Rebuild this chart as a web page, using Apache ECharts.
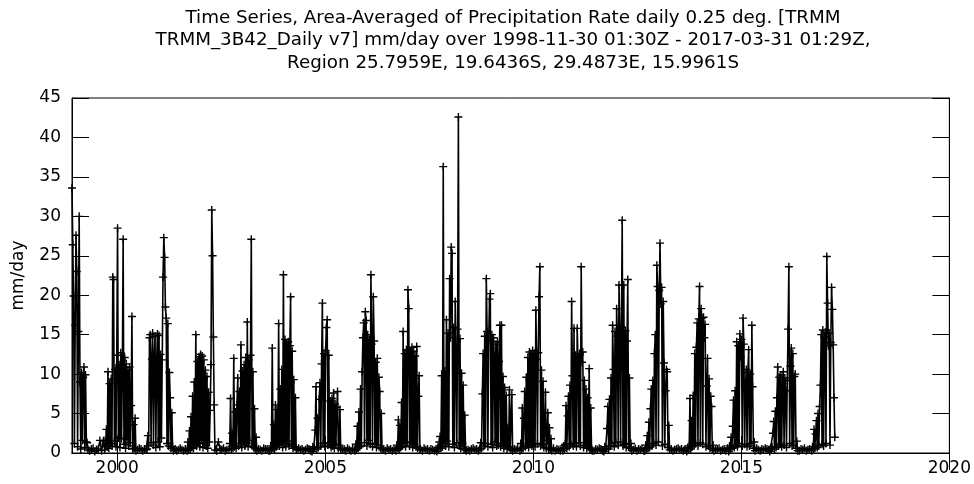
<!DOCTYPE html>
<html><head><meta charset="utf-8">
<script src="https://cdn.jsdelivr.net/npm/echarts@6/dist/echarts.min.js"></script>
<style>html,body{margin:0;padding:0;background:#fff}#chart{width:974px;height:484px}</style>
</head><body><div id="chart"></div>
<script>
const titleLines = [
  'Time Series, Area-Averaged of Precipitation Rate daily 0.25 deg. [TRMM',
  'TRMM_3B42_Daily v7] mm/day over 1998-11-30 01:30Z - 2017-03-31 01:29Z,',
  'Region 25.7959E, 19.6436S, 29.4873E, 15.9961S'
];
const yAxisName = 'mm/day';
const xTickYears = [2000, 2005, 2010, 2015, 2020];
const recordStart = '1998-11-30';
const axisEnd = '2020-01-01';
const wetStep = 7;   // days between wet-season samples
const dryStep = 15;  // days between dry-season samples

// first day of each rainy-season record
const wetStart = ['1998-11-30','1999-09-07','2000-09-19','2001-09-05','2002-09-08','2003-09-02',
  '2004-09-06','2005-09-18','2006-09-13','2007-09-07','2008-09-19','2009-09-05','2010-09-17',
  '2011-09-12','2012-09-06','2013-09-09','2014-09-12','2015-09-07','2016-09-09'];

// rainy-season values (mm/day)
const w1999 = [33.6,26.4,19.9,1.2,16.2,27.6,23.0,0.8,15.4,30.0,9.0,0.5,10.2,1.6,9.6,10.9,0.7,9.9,1.4,1.3,0.5];
const w2000 = [1.6,0.4,1.2,3.0,0.8,10.3,0.6,8.8,1.2,9.4,0.9,22.3,22.0,1.5,10.6,0.8,12.4,28.5,1.9,11.2,0.7,12.7,1.8,10.8,27.1,1.1,12.1,0.6,11.3,1.7,10.5,0.9,10.9,1.3,6.0,17.3,0.5,3.6,0.6,4.4,0.3];
const w2001 = [0.5,2.2,0.9,14.6,15.0,1.3,11.9,15.2,1.0,12.3,14.8,0.7,11.6,15.1,1.4,14.9,0.8,12.5,1.9,11.8,22.3,27.3,24.8,18.5,17.1,1.2,16.4,0.9,10.2,7.0,0.6,5.1,0.8,0.3];
const w2002 = [0.3,1.4,0.5,2.8,0.4,4.6,0.7,7.2,0.6,9.0,1.1,15.0,0.9,11.6,1.3,12.2,0.8,12.5,1.6,12.3,0.7,11.8,1.2,10.5,0.9,9.7,0.6,7.7,1.4,5.4,11.2,30.8,25.0,14.7,6.1,0.4];
const w2003 = [0.4,1.2,6.9,0.5,2.5,0.6,12.0,0.8,5.2,0.6,6.1,9.5,0.9,7.8,1.2,13.7,0.7,10.4,1.5,11.2,0.9,12.1,1.3,16.6,0.8,11.8,1.6,12.4,27.1,1.0,10.3,0.7,5.6,0.5,2.0,0.3];
const w2004 = [0.3,0.9,0.4,13.3,0.6,3.6,0.5,6.1,0.8,5.5,1.1,16.4,0.9,8.1,1.4,10.6,0.7,22.6,1.2,14.4,0.8,13.9,1.5,14.1,0.9,13.6,19.8,1.1,12.9,0.6,9.3,0.8,7.0,0.5,0.4];
const w2005 = [0.2,0.8,0.4,0.6,2.9,8.4,0.5,4.4,0.7,6.8,8.9,0.9,11.3,19.0,1.2,12.6,0.8,13.0,15.9,16.9,1.0,12.4,1.3,6.6,0.7,6.9,0.9,7.6,0.6,6.2,1.1,5.8,7.8,0.6,1.0,5.5,0.4];
const w2006 = [0.3,1.1,0.5,3.4,0.6,5.2,0.8,8.1,1.0,10.3,14.6,16.5,1.3,17.9,16.8,0.9,15.0,1.6,14.4,1.1,22.6,13.8,0.8,19.8,14.2,1.2,11.5,0.7,12.0,1.0,9.6,7.8,0.6,5.0,0.4];
const w2007 = [0.3,1.0,0.6,4.2,0.5,3.5,0.7,6.4,0.9,15.4,1.2,12.6,0.8,13.1,1.4,20.7,18.3,0.9,12.8,1.3,13.4,0.7,12.9,1.1,12.3,0.8,13.5,0.6,7.2,9.8,0.5,0.4];
const w2008 = [0.2,0.7,0.4,1.4,2.1,0.6,9.8,0.8,36.3,1.2,10.4,0.9,16.9,1.5,15.2,0.8,22.1,14.6,26.1,25.3,1.1,15.9,0.7,19.2,12.5,1.3,15.7,42.6,0.9,14.5,0.6,10.1,1.2,8.6,0.5,4.8,0.4,0.3];
const w2009 = [0.4,1.3,0.6,7.5,12.6,0.9,14.8,1.2,22.1,15.4,0.8,14.3,19.5,20.2,1.1,15.0,0.7,14.6,12.2,1.4,13.8,0.9,14.1,1.0,11.6,16.2,0.8,16.2,1.2,9.7,0.6,8.3,1.0,7.3,0.5,3.2,0.8,8.0,0.6,0.4,7.4,0.3];
const w2010 = [0.3,1.2,0.5,5.7,0.6,4.4,7.8,0.8,9.6,1.0,12.1,0.7,12.8,1.3,12.5,0.9,13.0,1.1,12.6,0.8,18.1,11.9,1.2,12.7,19.8,23.6,0.9,10.5,1.1,9.1,0.7,2.8,7.7,0.6,1.6,5.1,0.5,3.2,0.4,1.8,0.3];
const w2011 = [0.3,0.9,0.5,1.1,6.0,0.6,4.7,7.2,0.8,8.6,1.1,19.2,9.8,0.9,15.8,1.2,12.4,0.8,15.8,11.8,1.3,12.6,0.9,23.6,11.5,12.8,0.7,9.2,1.0,8.1,0.6,7.0,0.9,10.7,0.5,5.7,0.4,0.3];
const w2012 = [0.2,0.8,0.4,0.6,3.1,5.9,0.5,6.8,0.9,9.5,1.2,16.2,10.6,0.8,15.4,1.3,18.3,14.8,1.0,21.3,15.6,1.4,16.0,29.5,0.9,21.3,1.1,15.5,0.7,14.2,22.0,0.8,9.5,0.6,1.2,0.3];
const w2013 = [0.3,1.0,0.5,2.2,0.6,3.9,0.7,5.6,8.1,0.9,9.2,1.2,12.6,15.0,1.0,23.8,21.1,1.4,20.6,26.6,18.9,21.0,0.9,19.2,11.4,1.1,7.9,10.6,10.3,0.7,3.5,0.4];
const w2014 = [0.2,0.7,0.4,0.9,6.9,0.5,4.1,0.8,7.3,1.0,12.6,1.2,13.4,16.5,0.9,17.0,21.1,1.3,18.3,17.1,1.1,17.2,14.6,16.3,0.8,8.5,12.0,0.9,9.4,0.6,7.2,5.9,0.5,1.0,0.3];
const w2015 = [0.2,0.9,0.5,2.0,0.6,3.4,6.7,0.7,7.9,1.0,14.1,0.8,13.6,1.2,15.1,12.2,14.4,0.9,17.1,13.8,1.1,8.3,10.6,0.8,10.2,13.1,0.9,10.0,1.2,16.2,8.4,0.6,1.4,0.3];
const w2016 = [0.2,0.6,0.4,0.8,2.5,4.0,0.5,5.3,0.7,7.0,10.9,0.9,9.6,1.1,9.9,0.8,8.8,10.3,1.0,9.5,7.9,0.7,9.2,15.7,23.6,1.2,11.0,13.3,0.9,12.6,1.0,9.7,10.0,0.6,1.5,0.3];
const w2017 = [0.3,0.8,0.5,3.0,0.6,2.4,4.1,0.7,5.0,0.9,5.9,8.6,15.0,1.1,15.6,0.9,14.7,15.3,1.2,24.9,19.0,13.6,15.2,1.0,14.0,21.0,18.2,13.7,7.0,2.0];

// dry-season values (mm/day) following each rainy season
const d1999 = [0.3,0.5,0.6,0.2,0.4,0.5,1.6,0.3,1.5];
const d2000 = [0.4,0.6,0.5,0.3,0.5,0.4,0.6,0.3,0.5];
const d2001 = [0.5,0.3,0.4,0.6,0.4,0.3,0.5,0.7,0.4];
const d2002 = [0.3,1.4,0.5,0.4,0.6,0.3,0.4,0.5,0.3];
const d2003 = [0.5,0.4,0.3,0.6,0.5,0.4,0.3,0.5,0.4];
const d2004 = [0.6,0.4,0.5,0.3,0.4,0.6,0.5,0.3,0.4];
const d2005 = [0.4,0.5,0.3,0.6,0.4,0.3,0.5,0.4,0.6];
const d2006 = [0.5,0.3,0.6,0.4,0.5,0.3,0.4,0.6,0.3];
const d2007 = [0.3,0.6,0.4,0.5,0.3,0.5,0.4,0.3,0.5];
const d2008 = [0.4,0.3,0.5,0.6,0.4,0.5,0.3,0.6,0.4];
const d2009 = [0.5,0.4,0.6,0.3,0.5,0.4,0.6,0.5,0.3];
const d2010 = [0.6,0.3,0.5,0.4,0.3,0.6,0.4,0.5,0.4];
const d2011 = [0.3,0.5,0.4,0.6,0.5,0.3,0.5,0.4,0.6];
const d2012 = [0.4,0.6,0.3,0.5,0.4,0.6,0.3,0.5,0.4];
const d2013 = [0.5,0.3,0.4,0.5,0.6,0.4,0.5,0.3,0.5];
const d2014 = [0.4,0.5,0.6,0.3,0.4,0.5,0.3,0.6,0.4];
const d2015 = [0.6,0.4,0.3,0.5,0.4,0.6,0.5,0.4,0.3];
const d2016 = [0.3,0.5,0.4,0.6,0.3,0.4,0.5,0.3,0.6];

const wetValues = [w1999,w2000,w2001,w2002,w2003,w2004,w2005,w2006,w2007,w2008,w2009,w2010,w2011,w2012,w2013,w2014,w2015,w2016,w2017];
const dryValues = [d1999,d2000,d2001,d2002,d2003,d2004,d2005,d2006,d2007,d2008,d2009,d2010,d2011,d2012,d2013,d2014,d2015,d2016];

const DAY = 86400000;
const toT = s => Date.parse(s + 'T00:00:00Z');
const data = [];
for (let k = 0; k < wetValues.length; k++) {
  const s = toT(wetStart[k]);
  const wv = wetValues[k];
  wv.forEach((v, i) => data.push([s + i * wetStep * DAY, v]));
  if (k < dryValues.length) {
    const last = s + (wv.length - 1) * wetStep * DAY;
    const next = toT(wetStart[k + 1]);
    dryValues[k].forEach((v, j) => {
      const x = last + (j + 1) * dryStep * DAY;
      if (x < next - 4 * DAY) data.push([x, v]);
    });
  }
}
const xTicks = xTickYears.map(y => Date.UTC(y, 0, 1));
const FONT = 'DejaVu Sans';
const plus = 'path://M0,3.3L8,3.3L8,4.7L0,4.7Z M3.3,0L4.7,0L4.7,8L3.3,8Z';

const chart = echarts.init(document.getElementById('chart'), null, {renderer: 'canvas'});
const tickStyle = {show: true, inside: true, length: 17, lineStyle: {color: '#000', width: 1}};
chart.setOption({
  animation: false,
  backgroundColor: '#fff',
  title: {
    text: titleLines.join('\n'), left: 508, top: 2, textAlign: 'center',
    textStyle: {fontFamily: FONT, fontSize: 18.3, fontWeight: 'normal', color: '#000', lineHeight: 22.5}
  },
  grid: {left: 72, right: 24, top: 98, bottom: 31, show: true, borderColor: '#000', borderWidth: 1},
  xAxis: [
    {type: 'value', position: 'bottom', min: toT(recordStart), max: toT(axisEnd),
     axisLine: {show: true, lineStyle: {color: '#000'}},
     axisTick: Object.assign({customValues: xTicks}, tickStyle),
     axisLabel: {customValues: xTicks, formatter: v => String(new Date(v).getUTCFullYear()),
                 fontFamily: FONT, fontSize: 17, color: '#000', margin: 7},
     splitLine: {show: false}},
    {type: 'value', position: 'top', min: toT(recordStart), max: toT(axisEnd),
     axisLine: {show: true, lineStyle: {color: '#000'}},
     axisTick: Object.assign({customValues: xTicks}, tickStyle),
     axisLabel: {show: false}, splitLine: {show: false}}
  ],
  yAxis: [
    {type: 'value', min: 0, max: 45, interval: 5, position: 'left',
     name: yAxisName, nameLocation: 'middle', nameGap: 45,
     nameTextStyle: {fontFamily: FONT, fontSize: 17, color: '#000'},
     axisLine: {show: true, lineStyle: {color: '#000'}},
     axisTick: tickStyle,
     axisLabel: {fontFamily: FONT, fontSize: 17, color: '#000', margin: 11},
     splitLine: {show: false}},
    {type: 'value', min: 0, max: 45, interval: 5, position: 'right',
     axisLine: {show: true, lineStyle: {color: '#000'}},
     axisTick: tickStyle, axisLabel: {show: false}, splitLine: {show: false}}
  ],
  series: [{
    type: 'line', data: data, xAxisIndex: 0, yAxisIndex: 0,
    symbol: plus, symbolSize: 8, showSymbol: true,
    lineStyle: {color: '#000', width: 1.6}, itemStyle: {color: '#000'},
    emphasis: {disabled: true}
  }]
});
</script></body></html>
